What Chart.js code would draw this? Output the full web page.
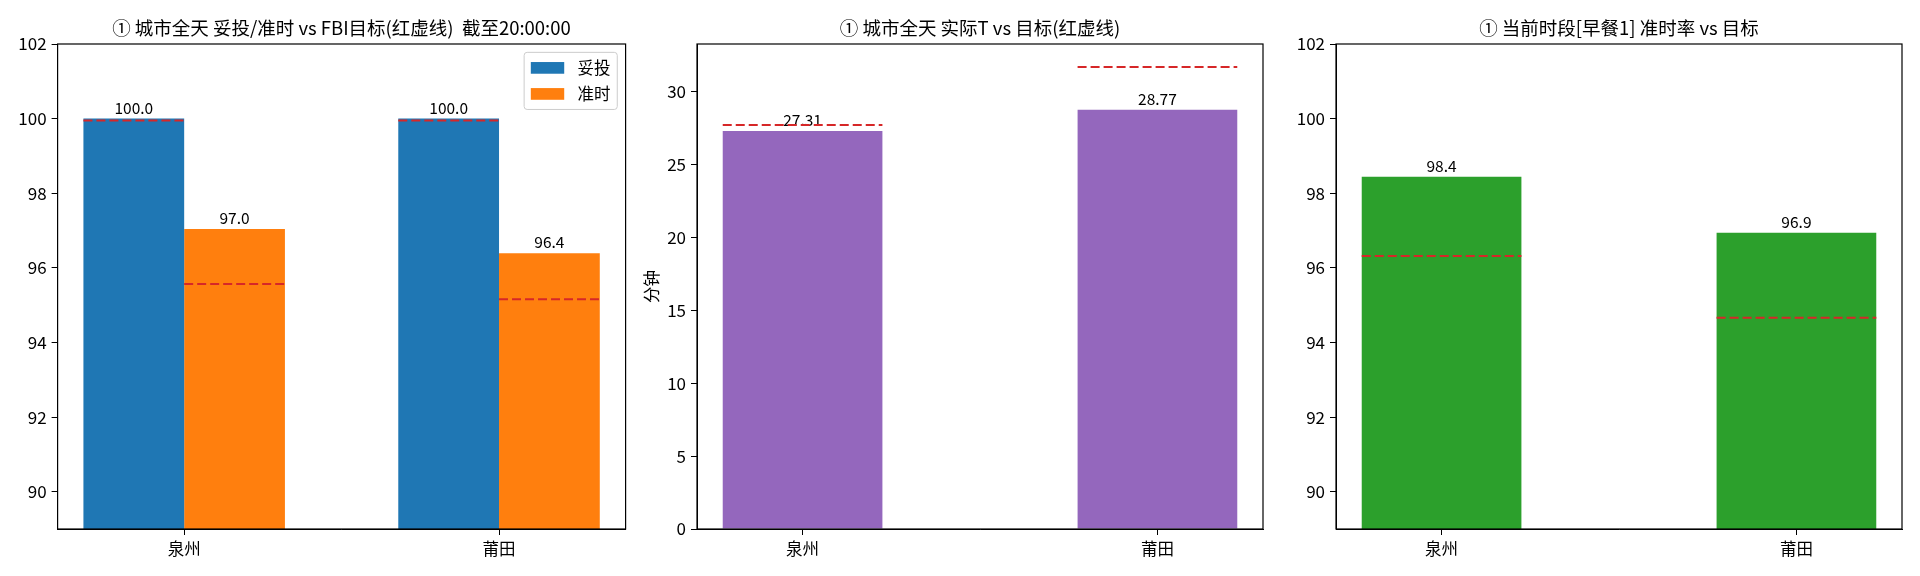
<!DOCTYPE html>
<html>
<head>
<meta charset="utf-8">
<script src="https://cdn.jsdelivr.net/npm/chart.js@4.4.1/dist/chart.umd.min.js"></script>
<style>
  body { margin: 0; background: #fff; width: 1920px; height: 576px; overflow: hidden; position: relative; }
  canvas { position: absolute; top: 0; }
</style>
</head>
<body>
<canvas id="c1"></canvas>
<canvas id="c2"></canvas>
<canvas id="c3"></canvas>
<script>
// data
const cities = ['泉州', '莆田'];

const deliveredRate = [100.0, 100.0];
const onTimeRate = [97.04, 96.39];
const deliveredTarget = [99.95, 99.95];
const onTimeTarget = [95.57, 95.16];

const actualT = [27.31, 28.77];
const targetT = [27.73, 31.7];

const slotOnTime = [98.44, 96.94];
const slotTarget = [96.32, 94.66];

const rateTicks = [90, 92, 94, 96, 98, 100, 102];
const minuteTicks = [0, 5, 10, 15, 20, 25, 30];

const FONT = "'Noto Sans CJK SC', 'Noto Sans', sans-serif";
const RED = '#d62728';

Chart.defaults.font.family = FONT;
Chart.defaults.color = '#000';
Chart.defaults.animation = false;

// box round the plot, like matplotlib spines
const frame = {
  id: 'frame',
  afterDraw(chart) {
    const { ctx, chartArea: a } = chart;
    ctx.save();
    ctx.strokeStyle = '#000';
    ctx.lineWidth = 1.2;
    ctx.strokeRect(a.left, a.top, a.right - a.left, a.bottom - a.top);
    ctx.restore();
  }
};

// value text above each bar (drawn before the dashed target lines)
const barValues = {
  id: 'barValues',
  afterDatasetDraw(chart, args, opts) {
    if (args.meta.type !== 'bar') return;
    const ds = chart.data.datasets[args.index];
    const ctx = chart.ctx;
    ctx.save();
    ctx.font = '15.5px ' + FONT;
    ctx.fillStyle = '#000';
    ctx.textAlign = 'center';
    ctx.textBaseline = 'alphabetic';
    args.meta.data.forEach((bar, i) => {
      ctx.fillText(ds.data[i].y.toFixed(opts.decimals), bar.x, bar.y - 5);
    });
    ctx.restore();
  }
};

// legend box inside the upper right corner
const boxLegend = {
  id: 'boxLegend',
  afterDraw(chart, args, opts) {
    if (!opts.show) return;
    const items = chart.data.datasets.filter(d => d.type === 'bar');
    const { ctx, chartArea: a } = chart;
    const fs = 16.7;
    const pad = 0.4 * fs, handle = 2 * fs, hh = 0.7 * fs, gap = 0.8 * fs;
    const rowH = 17.7, spacing = 0.5 * fs;
    ctx.save();
    ctx.font = '16.5px ' + FONT;
    const tw = Math.max(...items.map(d => ctx.measureText(d.label).width));
    const w = pad * 2 + handle + gap + tw;
    const h = pad * 2 + rowH * items.length + spacing * (items.length - 1);
    const x0 = a.right - 0.5 * fs - w;
    const y0 = a.top + 0.5 * fs;
    ctx.beginPath();
    ctx.roundRect(x0, y0, w, h, 3);
    ctx.fillStyle = 'rgba(255,255,255,0.8)';
    ctx.fill();
    ctx.strokeStyle = '#cccccc';
    ctx.lineWidth = 1;
    ctx.stroke();
    items.forEach((d, i) => {
      const cy = y0 + pad + rowH / 2 + i * (rowH + spacing);
      ctx.fillStyle = d.backgroundColor;
      ctx.fillRect(x0 + pad, cy - hh / 2, handle, hh);
      ctx.fillStyle = '#000';
      ctx.textBaseline = 'middle';
      ctx.fillText(d.label, x0 + pad + handle + gap, cy);
    });
    ctx.restore();
  }
};

function makePanel(id, p) {
  const n = p.series.length;
  const w = p.barWidth;
  const span = 1 + n * w;
  const xMin = -n * w / 2 - 0.05 * span;
  const xMax = 1 + n * w / 2 + 0.05 * span;

  // canvas symmetric round the plot so the title centres over the axes
  const canvas = document.getElementById(id);
  const yw = p.plotLeft - p.canvasLeft;
  const cw = Math.round(yw * 2 + p.plotWidth);
  canvas.width = cw;
  canvas.height = 576;
  canvas.style.left = p.canvasLeft + 'px';
  const rightSpace = cw - yw - p.plotWidth;

  const datasets = [];
  p.series.forEach((s) => {
    datasets.push({
      type: 'bar',
      label: s.label,
      data: cities.map((c, i) => ({ x: i, y: s.values[i] })),
      backgroundColor: s.color,
      borderWidth: 0,
      categoryPercentage: n * w,
      barPercentage: 1.0,
      order: 1
    });
  });
  p.series.forEach((s, k) => {
    const off = (k - (n - 1) / 2) * w;
    cities.forEach((c, i) => {
      datasets.push({
        type: 'line',
        label: 'target',
        data: [
          { x: i + off - w / 2, y: s.target[i] },
          { x: i + off + w / 2, y: s.target[i] }
        ],
        borderColor: RED,
        borderWidth: 2,
        borderDash: [9, 4],
        pointRadius: 0,
        fill: false,
        order: 0
      });
    });
  });

  return new Chart(canvas, {
    type: 'bar',
    data: { datasets },
    options: {
      responsive: false,
      devicePixelRatio: 1,
      animation: false,
      layout: { padding: 0 },
      plugins: {
        legend: { display: false },
        tooltip: { enabled: false },
        title: {
          display: true,
          text: p.title,
          color: '#000',
          font: { size: 18.5, weight: 'normal', lineHeight: 1.2 },
          padding: { top: 16.8, bottom: 5 }
        },
        barValues: { decimals: p.decimals },
        boxLegend: { show: !!p.legend }
      },
      scales: {
        x: {
          type: 'linear',
          min: xMin,
          max: xMax,
          offset: false,
          afterBuildTicks: sc => { sc.ticks = cities.map((c, i) => ({ value: i })); },
          ticks: { callback: v => cities[v], font: { size: 16.5 }, padding: 4, maxRotation: 0, autoSkip: false, color: '#000' },
          grid: { display: true, offset: false, drawOnChartArea: false, drawTicks: true, tickLength: 6, color: '#000', lineWidth: 1 },
          border: { display: true, color: '#000', width: 1 },
          afterFit: sc => { sc.height = 47; }
        },
        y: {
          min: p.yMin,
          max: p.yMax,
          beginAtZero: false,
          afterBuildTicks: sc => { sc.ticks = p.yTicks.map(v => ({ value: v })); },
          ticks: { font: { size: 17 }, padding: 5, color: '#000' },
          grid: { display: true, drawOnChartArea: false, drawTicks: true, tickLength: 6, color: '#000', lineWidth: 1 },
          border: { display: true, color: '#000', width: 1 },
          title: {
            display: !!p.yTitle,
            text: p.yTitle || '',
            color: '#000',
            font: { size: 16.5 },
            padding: { top: 2, bottom: 0 }
          },
          afterFit: sc => { sc.width = yw; }
        },
        // empty right-hand axis: only keeps the space that balances the left one
        yRight: {
          position: 'right',
          min: p.yMin,
          max: p.yMax,
          ticks: { display: false },
          grid: { display: false, drawTicks: false },
          border: { display: false },
          afterFit: sc => { sc.width = rightSpace; }
        }
      }
    },
    plugins: [barValues, frame, boxLegend]
  });
}

makePanel('c1', {
  title: '① 城市全天 妥投/准时 vs FBI目标(红虚线)  截至20:00:00',
  series: [
    { label: '妥投', values: deliveredRate, target: deliveredTarget, color: '#1f77b4' },
    { label: '准时', values: onTimeRate, target: onTimeTarget, color: '#ff7f0e' }
  ],
  barWidth: 0.32,
  yMin: 89, yMax: 102, yTicks: rateTicks,
  decimals: 1,
  canvasLeft: 0, plotLeft: 57.6, plotWidth: 568,
  legend: true
});

makePanel('c2', {
  title: '① 城市全天 实际T vs 目标(红虚线)',
  series: [
    { label: '实际T', values: actualT, target: targetT, color: '#9467bd' }
  ],
  barWidth: 0.45,
  yMin: 0, yMax: Math.max(...targetT) * 1.05, yTicks: minuteTicks,
  decimals: 2,
  yTitle: '分钟',
  canvasLeft: 640, plotLeft: 697, plotWidth: 566
});

makePanel('c3', {
  title: '① 当前时段[早餐1] 准时率 vs 目标',
  series: [
    { label: '准时率', values: slotOnTime, target: slotTarget, color: '#2ca02c' }
  ],
  barWidth: 0.45,
  yMin: 89, yMax: 102, yTicks: rateTicks,
  decimals: 1,
  canvasLeft: 1280, plotLeft: 1336, plotWidth: 566
});
</script>
</body>
</html>
